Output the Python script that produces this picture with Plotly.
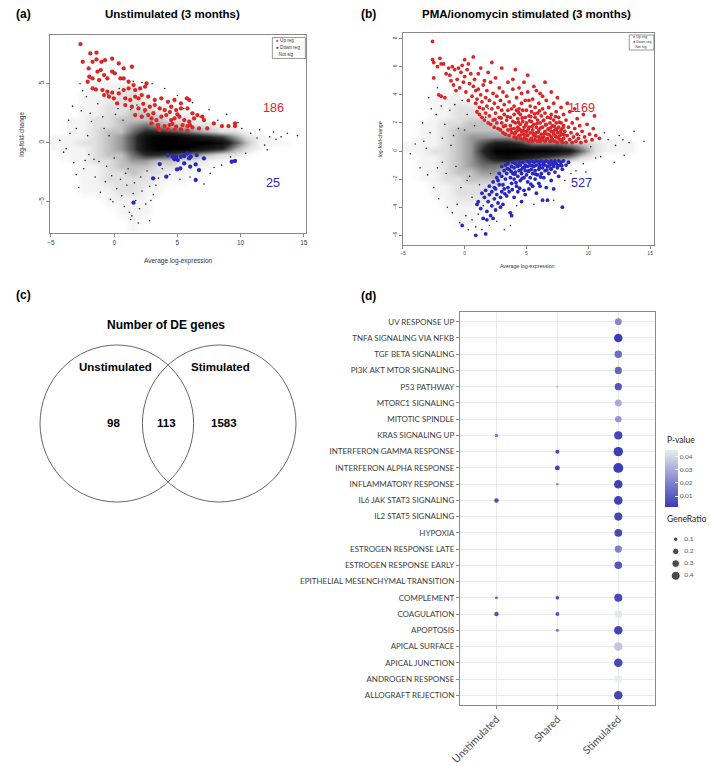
import plotly.graph_objects as go

W, H = 709, 766
def px(x): return x / W
def py(y): return 1 - y / H

# ---------------- data : panel (a) ----------------
UP_A = [(-2.67,8.36),(-2.49,6.86),(-1.89,7.57),(-1.40,7.63),(-1.40,7.06),(-1.71,6.86),(-1.01,6.86),(-0.73,7.0),
        (-0.16,7.12),(0.36,6.72),(0.75,6.3),(1.40,6.44),(-2.02,6.3),(-1.32,6.02),(-1.06,6.16),(-1.97,5.59),
        (-2.10,5.17),(-1.71,5.45),(-1.19,5.31),(-0.80,5.73),(-0.54,5.45),(-0.16,6.02),(0.05,5.88),(0.49,5.45),
        (0.75,5.45),(-1.71,4.60),(-1.45,4.52),(-0.93,4.46),(-0.54,4.32),(-0.16,4.24),(-0.80,4.04),(-0.41,3.90),
        (-0.03,3.76),(0.36,4.18),(0.75,4.46),(1.14,4.60),(1.66,4.46),(2.05,4.60),(2.44,4.75),(2.56,5.03),
        (1.53,4.89),(1.14,5.17),(0.88,3.76),(1.27,3.62),(1.66,3.90),(1.92,3.76),(2.18,4.04),(2.69,3.90),
        (3.21,3.62),(3.73,3.76),(4.25,3.47),(4.77,3.62),(5.28,3.33),(5.75,3.76),(5.93,3.62),(0.23,3.33),
        (0.88,3.19),(1.40,3.05),(1.92,2.91),(2.44,2.77),(2.82,3.05),(3.21,3.19),(3.60,2.91),(3.99,2.77),
        (4.51,3.05),(4.90,2.77),(5.28,2.91),(5.80,2.91),(6.19,2.49),(6.58,2.34),(6.97,2.20),(1.66,2.34),
        (2.18,2.20),(2.69,2.34),(2.95,2.06),(3.34,1.92),(3.73,2.20),(4.12,2.34),(4.51,1.92),(4.77,2.06),
        (5.16,2.20),(5.54,1.92),(5.93,1.78),(6.32,2.06),(7.10,1.92),(7.88,1.64),(8.52,1.41),(9.04,1.41),
        (9.56,1.64),(9.56,1.41),(2.95,1.64),(3.47,1.50),(3.99,1.41),(4.38,1.50),(4.90,1.36),(5.41,1.50),
        (5.80,1.41),(6.19,1.30),(6.71,1.21),(7.36,1.21),(3.60,1.07),(4.25,1.13),(4.77,1.07),(5.28,1.13),
        (5.80,1.02),(3.1,2.5),(4.4,2.6),(5.0,2.4),(3.5,1.2),(4.6,1.6),(6.0,1.5),(2.3,3.3)]
DOWN_A = [(4.64,-1.19),(4.77,-1.41),(4.90,-1.19),(5.03,-1.47),(5.28,-1.19),(5.54,-1.13),(5.93,-1.33),
          (6.06,-1.19),(6.53,-1.05),(3.60,-1.81),(4.97,-2.26),(5.23,-2.18),(5.54,-1.75),(6.01,-2.03),
          (6.45,-1.84),(6.71,-2.32),(3.08,-3.02),(4.12,-2.88),(6.45,-3.16),(9.30,-1.61),(9.56,-1.55),
          (1.53,-5.08),(7.10,-1.33),(5.80,-0.90),(4.25,-1.05)]
SPECK_A = [(-4.3,0.2),(-3.8,-0.5),(-3.5,0.8),(-3.2,-1.7),(-3.0,1.2),(-2.8,-3.8),(-2.6,2.7),(-2.4,-2.2),
           (-2.2,3.9),(-2.0,-1.0),(-1.8,1.8),(-1.5,-2.9),(-1.3,3.3),(-1.1,-4.2),(-0.9,2.2),(-0.7,-3.3),
           (-0.5,4.1),(-0.3,-4.8),(-0.1,-5.0),(0.2,-3.9),(0.4,4.6),(0.6,-4.5),(0.8,-5.4),(1.0,-3.6),
           (1.2,-5.9),(1.4,-6.2),(1.7,-4.9),(2.0,-5.6),(2.2,-4.1),(2.5,-5.2),(2.8,-3.7),(3.1,-4.4),
           (3.5,-3.0),(1.9,-6.8),(2.8,-6.6),(1.3,-6.5),(7.1,-3.5),(6.0,-2.9),(7.6,-2.6),(8.5,-1.9),
           (9.2,-1.2),(10.4,-0.9),(10.8,0.8),(11.3,0.4),(11.9,-0.2),(12.3,0.5),(12.6,0.9),(12.8,0.3),
           (13.2,0.5),(13.7,0.8),(14.5,0.6),(12.1,-0.6),(11.5,1.1),(9.8,1.7),(8.9,2.4),(7.5,2.8),
           (6.2,3.4),(5.0,4.0),(4.0,4.6),(3.0,5.0),(2.2,5.1),(1.5,5.2),(-2.7,5.0),(-2.5,4.4),
           (-3.3,3.1),(-4.0,-0.8),(-3.0,-2.7),(-2.1,0.6),(-1.6,-1.4),(-0.6,-2.0),(0.3,2.9),(0.9,-2.6),
           (-1.2,-1.6),(-0.8,1.2),(-0.2,-2.8),(0.1,2.4),(0.5,-3.1),(0.7,1.9),(1.1,-2.2),(1.3,2.8),
           (1.6,-3.4),(1.8,3.2),(2.1,-2.9),(2.4,2.6),(2.6,-2.4),(2.9,-4.9),(3.3,-3.6),(3.8,-2.2),
           (4.4,-2.7),(5.2,-3.1),(5.5,2.9),(6.8,2.2),(7.9,-2.1),(8.2,1.9),(9.5,-1.5),(10.1,1.2),
           (-1.9,2.5),(-2.3,-1.5),(-3.6,1.9),(0.0,-1.3),(-0.4,0.6),(1.5,-4.3)]

# density of non-significant genes (0 = none, 10 = solid black)
DENS_X = [-4.5,-3.5,-2.5,-1.5,-0.5,0.5,1.5,2.5,3.5,4.5,5.5,6.5,7.5,8.5,9.5,10.5,11.5,12.5,13.5,14.5]
DENS_Y_A = [8,7,6,5,4,3,2.5,2,1.5,1,0.5,0,-0.5,-1,-1.5,-2,-2.5,-3,-4,-5,-6,-7]
DENS_A = [
 [0,0,0,0,0,0,0,0,0,0,0,0,0,0,0,0,0,0,0,0],
 [0,0,0,0,0,0,0,0,0,0,0,0,0,0,0,0,0,0,0,0],
 [0,0,0,0,0,0,0,0,0,0,0,0,0,0,0,0,0,0,0,0],
 [0,0,0,1,1,1,1,0,0,0,0,0,0,0,0,0,0,0,0,0],
 [0,0,1,1,1,2,2,1,0,0,0,0,0,0,0,0,0,0,0,0],
 [0,0,1,1,2,2,2,2,1,1,0,0,0,0,0,0,0,0,0,0],
 [0,0,1,1,2,2,3,3,2,1,1,1,0,0,0,0,0,0,0,0],
 [0,1,1,2,2,3,3,3,3,2,2,1,1,0,0,0,0,0,0,0],
 [0,1,1,2,2,3,4,5,4,3,3,2,2,1,1,0,0,0,0,0],
 [0,1,1,2,3,3,5,7,7,6,5,4,3,2,2,1,0,0,0,0],
 [1,1,1,2,3,4,6,9,10,10,9,8,7,6,4,2,1,1,0,0],
 [1,1,2,2,3,4,6,9,10,10,10,10,10,9,6,3,1,1,1,0],
 [1,1,1,2,3,4,6,9,10,10,10,9,8,7,4,2,1,0,0,0],
 [0,1,1,2,3,3,5,7,7,6,5,4,3,2,2,1,0,0,0,0],
 [0,1,1,2,2,3,4,4,3,3,2,2,1,1,0,0,0,0,0,0],
 [0,0,1,1,2,3,3,3,2,2,1,1,1,0,0,0,0,0,0,0],
 [0,0,1,1,2,2,3,2,2,1,1,1,0,0,0,0,0,0,0,0],
 [0,0,1,1,2,2,2,2,1,1,1,0,0,0,0,0,0,0,0,0],
 [0,0,1,1,1,2,2,1,1,0,0,0,0,0,0,0,0,0,0,0],
 [0,0,0,0,1,1,1,1,0,0,0,0,0,0,0,0,0,0,0,0],
 [0,0,0,0,0,1,1,1,0,0,0,0,0,0,0,0,0,0,0,0],
 [0,0,0,0,0,0,1,0,0,0,0,0,0,0,0,0,0,0,0,0]]

# ---------------- data : panel (b) ----------------
UP_B = [(-2.6,7.8),(-2.6,6.5),(-2.5,6.3),(-2.5,5.2),(-2.2,6.0),(-2.0,6.6),(-1.9,6.2),(-1.7,6.2),(-2.1,4.0),
        (-1.9,3.9),(-1.6,3.8),(-1.5,5.5),(-1.3,5.9),(-1.2,5.4),(-1.1,5.0),(-1.0,6.0),(-0.9,4.7),(-0.8,5.8),
        (-0.7,4.3),(-0.6,5.1),(-0.5,5.9),(-0.4,4.5),(-0.3,5.6),(-0.2,6.1),(-0.1,4.9),(0.0,6.5),(0.0,5.3),
        (0.1,4.2),(0.2,5.8),(0.3,6.2),(0.3,3.6),(0.4,4.8),(0.5,5.5),(0.6,3.9),(0.7,6.7),(0.7,4.6),(0.8,5.1),
        (0.9,3.4),(0.9,4.3),
        (1.0,2.8),(1.0,3.7),(1.1,5.5),(1.1,4.4),(1.2,3.1),(1.2,2.6),(1.3,4.0),(1.3,5.9),(1.4,3.5),(1.4,2.4),
        (1.5,4.7),(1.5,3.0),(1.6,2.2),(1.6,5.0),(1.7,3.8),(1.7,2.7),(1.8,4.3),(1.8,3.2),(1.9,2.0),(1.9,5.6),
        (2.0,3.6),(2.0,2.5),(2.1,4.9),(2.1,1.9),(2.2,3.0),(2.2,6.3),(2.3,2.2),(2.3,4.1),(2.4,3.4),(2.4,1.7),
        (2.5,2.7),(2.5,5.2),(2.6,3.9),(2.6,2.0),(2.7,1.6),(2.7,3.1),(2.8,4.5),(2.8,2.4),(2.9,1.5),(2.9,3.6),
        (3.0,2.0),(3.0,2.9),(3.0,5.9),(3.1,1.3),(3.1,4.2),(3.2,2.6),(3.2,3.3),(3.3,1.8),(3.3,1.2),(3.4,3.9),
        (3.4,2.2),(3.5,1.5),(3.5,2.9),(3.5,4.9),(3.6,1.1),(3.6,3.5),(3.7,2.4),(3.7,1.8),(3.8,3.0),(3.8,1.3),
        (3.9,4.4),(3.9,2.1),
        (4.0,1.0),(4.0,1.6),(4.0,2.6),(4.0,3.2),(4.1,1.3),(4.1,2.0),(4.1,5.8),(4.2,0.9),(4.2,2.9),(4.2,3.8),
        (4.3,1.7),(4.3,2.3),(4.4,1.1),(4.4,3.0),(4.4,4.5),(4.5,0.9),(4.5,1.9),(4.5,2.6),(4.6,1.4),(4.6,3.4),
        (4.7,0.8),(4.7,2.1),(4.7,2.9),(4.8,1.2),(4.8,1.7),(4.8,4.9),(4.9,2.4),(4.9,3.6),(5.0,0.8),(5.0,1.4),
        (5.0,2.0),(5.0,2.9),(5.1,1.1),(5.1,4.2),(5.1,5.4),(5.2,0.7),(5.2,1.7),(5.2,2.5),(5.3,1.3),(5.3,3.2),
        (5.4,0.9),(5.4,2.1),(5.4,2.8),(5.5,0.7),(5.5,1.5),(5.5,3.7),(5.6,1.1),(5.6,1.9),(5.6,4.6),(5.7,0.8),
        (5.7,2.4),(5.7,3.1),(5.8,1.3),(5.8,1.7),(5.9,0.7),(5.9,2.2),(5.9,2.7),(6.0,1.0),(6.0,1.5),(6.0,3.4),
        (6.1,0.7),(6.1,2.0),(6.1,4.1),(6.2,1.2),(6.2,2.5),(6.3,0.8),(6.3,1.7),(6.3,3.0),(6.4,1.0),(6.4,2.2),
        (6.5,0.7),(6.5,1.4),(6.5,2.7),(6.5,4.9),(6.6,1.9),(6.6,3.6),(6.7,0.9),(6.7,1.2),(6.7,2.4),(6.8,1.6),
        (6.8,3.1),(6.9,0.7),(6.9,2.0),(7.0,1.0),(7.0,1.4),(7.0,2.6),(7.0,4.2),(7.1,0.8),(7.1,1.8),(7.2,1.2),
        (7.2,2.2),(7.2,3.4),(7.3,0.7),(7.3,1.5),(7.4,1.0),(7.4,2.0),(7.4,2.8),(7.5,0.6),(7.5,1.3),(7.5,3.8),
        (7.6,1.7),(7.6,2.4),(7.7,0.8),(7.7,1.1),(7.8,1.5),(7.8,2.0),(7.8,3.1),(7.9,0.6),(7.9,1.2),(8.0,0.9),
        (8.0,1.8),(8.0,2.6),
        (8.1,1.4),(8.2,0.6),(8.2,2.2),(8.3,1.1),(8.3,3.4),(8.4,1.7),(8.5,0.8),(8.5,2.8),(8.6,1.3),(8.7,2.0),
        (8.7,0.6),(8.8,1.0),(8.9,1.6),(8.9,3.0),(9.0,0.7),(9.1,2.3),(9.1,1.2),(9.2,0.9),(9.3,1.8),(9.4,0.6),
        (9.5,1.4),(9.6,2.6),(9.7,1.0),(9.8,0.7),(9.9,1.9),(10.1,1.2),(10.3,0.8),(10.5,2.5),(10.6,1.1),
        (10.9,0.9),(10.4,1.6),
        (4.05,1.25),(4.15,0.95),(4.25,1.45),(4.35,2.05),(4.45,1.55),(4.55,1.15),(4.65,2.35),(4.75,1.45),
        (4.85,0.95),(4.95,1.85),(5.05,1.15),(5.15,1.55),(5.25,2.15),(5.35,0.85),(5.45,1.75),(5.55,1.25),
        (5.65,2.65),(5.75,1.05),(5.85,1.95),(5.95,1.35),(6.05,0.85),(6.15,1.65),(6.25,0.95),(6.35,2.15),
        (6.45,1.25),(6.55,1.85),(6.65,0.85),(6.75,1.55),(6.85,1.15),(6.95,2.35),(7.05,0.75),(7.15,1.35),
        (7.25,1.75),(7.35,1.05),(7.45,1.55),(7.55,0.95),(7.65,2.05),(7.75,1.35),(7.85,0.75),(7.95,1.65),
        (8.05,1.15),(5.2,3.6),(4.6,4.1),(3.9,5.1),(6.3,3.9),(5.8,4.3),(3.45,2.45),(2.95,2.35),(3.75,1.55),
        (4.35,2.75),(5.35,2.45),(6.05,2.85),(6.95,1.65),(7.35,2.45),(3.15,1.75),(2.45,2.25)]
DOWN_B = [(3.0,-1.1),(3.0,-1.8),(3.1,-2.4),(3.2,-1.4),(3.3,-1.0),(3.3,-2.0),(3.4,-1.6),(3.5,-0.9),(3.5,-2.6),
          (3.6,-1.3),(3.7,-1.9),(3.8,-1.1),(3.8,-2.3),(3.9,-0.8),(3.9,-1.6),(4.0,-1.2),(4.0,-2.0),(4.1,-0.9),
          (4.1,-1.5),(4.2,-2.5),(4.3,-1.1),(4.3,-1.8),(4.4,-0.8),(4.4,-1.4),(4.5,-2.1),(4.5,-1.0),(4.6,-1.6),
          (4.7,-0.8),(4.7,-1.2),(4.8,-1.9),(4.8,-2.8),(4.9,-1.0),(4.9,-1.4),(5.0,-0.7),(5.0,-1.7),(5.1,-1.1),
          (5.1,-2.2),(5.2,-0.8),(5.2,-1.4),(5.3,-1.0),(5.3,-1.9),(5.4,-0.7),(5.4,-1.3),(5.5,-1.6),(5.5,-2.5),
          (5.6,-0.8),(5.6,-1.1),(5.7,-1.4),(5.7,-2.0),(5.8,-0.7),(5.8,-1.0),(5.9,-1.7),(6.0,-0.8),(6.0,-1.3),
          (6.0,-2.3),(6.1,-1.0),(6.2,-0.7),(6.2,-1.6),(6.3,-1.2),(6.3,-3.5),(6.4,-0.8),(6.4,-1.9),(6.5,-1.0),
          (6.5,-1.4),(6.6,-0.7),(6.6,-2.6),(6.7,-1.1),(6.8,-0.8),(6.8,-1.6),(6.9,-1.0),(7.0,-0.7),(7.0,-1.3),
          (7.0,-2.1),(7.1,-0.9),(7.2,-1.1),(7.3,-0.7),(7.3,-1.5),(7.4,-0.9),(7.5,-1.2),(7.6,-0.7),(7.6,-1.8),
          (7.7,-1.0),(7.8,-0.8),(7.9,-1.3),(8.0,-0.7),(8.2,-1.0),(8.4,-0.8),(7.9,-4.0),(7.2,-2.7),(6.7,-3.5),
          (1.0,-3.8),(1.1,-3.6),(1.3,-4.1),(1.4,-3.0),(1.5,-4.8),(1.6,-3.3),(1.7,-2.8),(1.8,-4.3),(1.9,-3.6),
          (2.0,-2.5),(2.0,-3.1),(2.1,-4.6),(2.2,-2.9),(2.2,-3.9),(2.3,-2.2),(2.4,-3.4),(2.5,-2.7),(2.5,-4.2),
          (2.6,-1.9),(2.6,-3.1),(2.7,-3.7),(2.8,-2.4),(2.8,-1.6),(2.9,-3.3),(3.0,-2.9),(3.1,-3.8),(3.2,-2.7),
          (3.4,-3.2),(3.6,-2.9),(3.8,-4.6),(4.0,-3.3),(4.3,-2.9),(4.6,-3.6),(4.9,-3.1),(5.2,-2.7),(5.8,-3.0),
          (6.1,-2.5),(0.9,-6.0),(1.7,-5.9),(-0.2,-5.3),(1.8,-4.9),(2.3,-4.8),(3.7,-4.4),(2.9,-4.0),
          (3.45,-1.25),(3.75,-1.45),(4.05,-1.65),(4.25,-1.05),(4.55,-1.35),(4.85,-1.15),(5.15,-1.45),
          (5.45,-1.05),(5.75,-1.65),(6.05,-1.15),(6.35,-0.95),(6.65,-1.35),(6.95,-1.25),(7.25,-0.85),
          (7.55,-1.05),(7.85,-1.05),(4.15,-2.25),(4.65,-1.95),(5.35,-2.35),(6.15,-1.85),(3.85,-2.75),
          (4.45,-2.65),(2.7,-2.1),(2.4,-2.6),(3.25,-3.05)]
SPECK_B = [(-4.4,-0.2),(-4.0,0.5),(-3.6,-1.2),(-3.3,0.7),(-3.4,2.0),(-3.0,-1.7),(-2.8,1.3),(-2.5,-2.6),
           (-2.7,3.0),(-2.3,2.6),(-2.1,-3.4),(-1.8,-0.8),(-1.6,1.9),(-1.4,-4.0),(-1.2,2.9),(-1.0,-4.4),
           (-0.8,3.3),(-0.6,-3.8),(-0.4,-5.1),(-0.2,3.6),(0.1,-4.6),(0.3,-5.6),(0.6,-4.9),(0.9,-5.4),
           (1.1,-4.5),(1.4,-5.6),(2.0,-5.3),(2.6,-5.0),(3.2,-5.6),(3.6,-4.4),(4.2,-3.9),(5.6,-3.8),
           (7.2,-3.5),(8.1,-2.1),(9.0,-1.4),(9.6,-0.9),(10.2,0.3),(11.0,-0.4),(11.6,0.8),(12.2,0.4),
           (12.5,1.1),(12.8,0.8),(13.3,0.6),(13.7,1.4),(14.5,0.7),(12.1,-0.8),(12.9,-0.3),(11.3,1.3),
           (9.8,-1.5),(3.7,-5.3),(-2.9,3.8),(-1.9,3.2),(-2.2,4.5),(1.9,3.0),(-1.1,0.4),(0.2,-2.1),(-0.5,1.6),
           (-1.5,-1.6),(-0.9,1.1),(-0.3,-2.6),(0.2,2.6),(0.6,-3.3),(0.8,1.8),(1.2,-2.4),(1.0,2.7),
           (1.5,-3.9),(1.7,2.4),(2.1,-1.6),(-2.2,-1.2),(-3.1,0.2),(-0.7,-1.1),(0.4,-1.8),(9.3,1.1),
           (10.6,-0.5),(8.6,-1.6),(-1.8,0.9),(0.0,1.5)]
DENS_Y_B = [6,5,4,3,2.5,2,1.5,1,0.5,0,-0.5,-1,-1.5,-2,-2.5,-3,-4,-5,-6]
DENS_B = [
 [0,0,0,0,0,0,0,0,0,0,0,0,0,0,0,0,0,0,0,0],
 [0,0,0,0,0,0,0,0,0,0,0,0,0,0,0,0,0,0,0,0],
 [0,0,1,1,1,0,0,0,0,0,0,0,0,0,0,0,0,0,0,0],
 [0,0,1,1,2,2,1,0,0,0,0,0,0,0,0,0,0,0,0,0],
 [0,0,1,1,2,2,2,1,0,0,0,0,0,0,0,0,0,0,0,0],
 [0,1,1,2,2,3,3,2,1,0,0,0,0,0,0,0,0,0,0,0],
 [0,1,1,2,3,3,3,3,2,1,0,0,0,0,0,0,0,0,0,0],
 [0,1,1,2,3,4,4,4,4,3,2,1,1,1,1,0,0,1,0,0],
 [1,1,1,2,3,4,6,8,8,7,5,5,5,4,3,2,1,1,1,0],
 [1,1,2,2,3,4,7,10,10,10,10,10,9,8,5,2,1,1,1,0],
 [0,1,1,2,3,4,6,8,9,8,7,6,5,4,2,1,0,0,0,0],
 [0,1,1,2,3,4,5,5,4,2,1,1,0,0,0,0,0,0,0,0],
 [0,1,1,2,3,3,4,4,2,1,0,0,0,0,0,0,0,0,0,0],
 [0,1,1,2,2,3,3,3,1,0,0,0,0,0,0,0,0,0,0,0],
 [0,0,1,1,2,2,2,2,1,0,0,0,0,0,0,0,0,0,0,0],
 [0,0,1,1,2,2,2,1,0,0,0,0,0,0,0,0,0,0,0,0],
 [0,0,0,1,1,1,1,1,0,0,0,0,0,0,0,0,0,0,0,0],
 [0,0,0,0,1,1,0,0,0,0,0,0,0,0,0,0,0,0,0,0],
 [0,0,0,0,0,0,0,0,0,0,0,0,0,0,0,0,0,0,0,0]]
COUNTS_A = {"up": 186, "down": 25}
COUNTS_B = {"up": 1169, "down": 527}

# ---------------- data : panel (c) ----------------
VENN_SETS = ["Unstimulated", "Stimulated"]
VENN_COUNTS = [98, 113, 1583]   # only unstim, shared, only stim

# ---------------- data : panel (d) ----------------
PATHWAYS = ["UV RESPONSE UP","TNFA SIGNALING VIA NFKB","TGF BETA SIGNALING","PI3K AKT MTOR SIGNALING",
            "P53 PATHWAY","MTORC1 SIGNALING","MITOTIC SPINDLE","KRAS SIGNALING UP",
            "INTERFERON GAMMA RESPONSE","INTERFERON ALPHA RESPONSE","INFLAMMATORY RESPONSE",
            "IL6 JAK STAT3 SIGNALING","IL2 STAT5 SIGNALING","HYPOXIA","ESTROGEN RESPONSE LATE",
            "ESTROGEN RESPONSE EARLY","EPITHELIAL MESENCHYMAL TRANSITION","COMPLEMENT","COAGULATION",
            "APOPTOSIS","APICAL SURFACE","APICAL JUNCTION","ANDROGEN RESPONSE","ALLOGRAFT REJECTION"]
GROUPS = ["Unstimulated", "Shared", "Stimulated"]
ENR_GROUP = ["Unstimulated"]*5 + ["Shared"]*8 + ["Stimulated"]*23
ENR_PATH = ["KRAS SIGNALING UP","IL6 JAK STAT3 SIGNALING","EPITHELIAL MESENCHYMAL TRANSITION","COMPLEMENT","COAGULATION",
            "P53 PATHWAY","INTERFERON GAMMA RESPONSE","INTERFERON ALPHA RESPONSE","INFLAMMATORY RESPONSE",
            "COMPLEMENT","COAGULATION","APOPTOSIS","ALLOGRAFT REJECTION",
            "UV RESPONSE UP","TNFA SIGNALING VIA NFKB","TGF BETA SIGNALING","PI3K AKT MTOR SIGNALING",
            "P53 PATHWAY","MTORC1 SIGNALING","MITOTIC SPINDLE","KRAS SIGNALING UP",
            "INTERFERON GAMMA RESPONSE","INTERFERON ALPHA RESPONSE","INFLAMMATORY RESPONSE",
            "IL6 JAK STAT3 SIGNALING","IL2 STAT5 SIGNALING","HYPOXIA","ESTROGEN RESPONSE LATE",
            "ESTROGEN RESPONSE EARLY","COMPLEMENT","COAGULATION","APOPTOSIS","APICAL SURFACE",
            "APICAL JUNCTION","ANDROGEN RESPONSE","ALLOGRAFT REJECTION"]
ENR_P = [0.018,0.006,0.045,0.015,0.008,
         0.030,0.004,0.003,0.020,0.006,0.008,0.016,0.035,
         0.022,0.0017,0.015,0.012,0.008,0.030,0.025,0.004,0.002,0.0017,0.003,0.003,0.004,0.005,
         0.020,0.008,0.005,0.0440,0.004,0.036,0.005,0.0446,0.004]
ENR_RATIO = [0.06,0.10,0.03,0.045,0.10,
             0.02,0.08,0.12,0.03,0.065,0.075,0.045,0.012,
             0.24,0.36,0.28,0.26,0.26,0.24,0.21,0.33,0.44,0.49,0.36,0.36,0.32,0.30,
             0.26,0.28,0.32,0.30,0.36,0.36,0.36,0.28,0.36]
RATIO_BREAKS = [0.1, 0.2, 0.3, 0.4]
P_TICKS = [0.01, 0.02, 0.03, 0.04]

RED, BLUE = "#d92626", "#2828c0"
FONT = "Liberation Sans"
GG = "Lato"

def dsize(r):
    return 14.2 * r ** 0.5

fig = go.Figure()

def ma_panel(xa, ya, dens_y, dens, up, down, speck, msize):
    fig.add_trace(go.Heatmap(x=DENS_X, y=dens_y[::-1], z=dens[::-1], zmin=0, zmax=10, zsmooth="best",
                             colorscale=[[0, "rgba(255,255,255,0)"], [0.1, "#f4f4f4"], [0.2, "#e0e0e0"],
                                         [0.3, "#c2c2c2"], [0.5, "#6e6e6e"], [0.7, "#262626"],
                                         [1, "#000000"]],
                             showscale=False, hoverinfo="skip", xaxis=xa, yaxis=ya))
    fig.add_trace(go.Scatter(x=[p[0] for p in speck], y=[p[1] for p in speck], mode="markers",
                             marker=dict(size=1.6, color="#222"), xaxis=xa, yaxis=ya, showlegend=False))
    fig.add_trace(go.Scatter(x=[p[0] for p in up], y=[p[1] for p in up], mode="markers",
                             marker=dict(size=msize, color=RED), xaxis=xa, yaxis=ya, showlegend=False))
    fig.add_trace(go.Scatter(x=[p[0] for p in down], y=[p[1] for p in down], mode="markers",
                             marker=dict(size=msize, color=BLUE), xaxis=xa, yaxis=ya, showlegend=False))

ma_panel("x", "y", DENS_Y_A, DENS_A, UP_A, DOWN_A, SPECK_A, 4.3)
ma_panel("x2", "y2", DENS_Y_B, DENS_B, UP_B, DOWN_B, SPECK_B, 3.8)

# panel d
gi = {g: i + 1 for i, g in enumerate(GROUPS)}
pi = {p: i + 1 for i, p in enumerate(PATHWAYS)}
fig.add_trace(go.Scatter(
    x=[gi[g] for g in ENR_GROUP], y=[pi[p] for p in ENR_PATH], mode="markers",
    marker=dict(size=[dsize(r) for r in ENR_RATIO], color=ENR_P, cmin=min(ENR_P), cmax=max(ENR_P),
                colorscale=[[0, "#3a3db6"], [0.45, "#8586cc"], [0.75, "#b9bde0"], [1, "#e2f2ea"]],
                line=dict(width=0), opacity=1,
                colorbar=dict(x=px(665), xanchor="left", y=py(507), yanchor="bottom", ypad=0, xpad=0,
                              len=57, lenmode="pixels", thickness=13, thicknessmode="pixels",
                              outlinewidth=0, tickvals=P_TICKS, ticktext=[f"{t:.2f}" for t in P_TICKS],
                              ticks="inside", ticklen=3, tickcolor="white",
                              tickfont=dict(size=6.5, family=GG, color="#555"))),
    xaxis="x3", yaxis="y3", showlegend=False))

# GeneRatio legend keys
fig.add_trace(go.Scatter(x=[0.28]*4, y=RATIO_BREAKS, mode="markers",
                         marker=dict(size=[dsize(r) for r in RATIO_BREAKS], color="black"),
                         xaxis="x4", yaxis="y4", showlegend=False))
fig.add_trace(go.Scatter(x=[0.5]*4, y=RATIO_BREAKS, mode="text", text=[str(r) for r in RATIO_BREAKS],
                         textposition="middle right", textfont=dict(size=6.5, family=GG, color="#555"),
                         xaxis="x4", yaxis="y4", showlegend=False))

axis_line = dict(showline=True, linecolor="#8a8a8a", linewidth=1, mirror=True, showgrid=False,
                 zeroline=False, ticks="outside", ticklen=3, tickcolor="#8a8a8a")
fig.update_layout(
    width=W, height=H, margin=dict(l=0, r=0, t=0, b=0), plot_bgcolor="white", paper_bgcolor="white",
    showlegend=False, font=dict(family=FONT),
    xaxis=dict(domain=[px(41), px(301)], range=[-5.05, 15.2], tickvals=[-5, 0, 5, 10, 15],
               tickfont=dict(size=6.5, color="#444"), anchor="y", **axis_line),
    yaxis=dict(domain=[py(233), py(35)], range=[-7.65, 9.13], tickvals=[-5, 0, 5], tickangle=-90,
               tickfont=dict(size=6.5, color="#444"), anchor="x", **axis_line),
    xaxis2=dict(domain=[px(399), px(654)], range=[-5.0, 15.3], tickvals=[-5, 0, 5, 10, 15],
                tickfont=dict(size=5, color="#444"), anchor="y2", **axis_line),
    yaxis2=dict(domain=[py(245), py(33)], range=[-6.69, 8.4], tickvals=[-6, -4, -2, 0, 2, 4, 6, 8],
                tickangle=-90, tickfont=dict(size=5, color="#444"), anchor="x2", **axis_line),
    xaxis3=dict(domain=[px(457), px(655)], range=[0.4, 3.6], tickvals=[1, 2, 3], ticktext=GROUPS,
                tickangle=-45, tickfont=dict(size=10.5, family=GG, color="#4d4d4d"),
                showgrid=True, gridcolor="#ebebeb", gridwidth=1, zeroline=False,
                showline=True, linecolor="#8a8a8a", mirror=True, ticks="outside", ticklen=3,
                tickcolor="#8a8a8a", anchor="y3"),
    yaxis3=dict(domain=[py(705), py(312)], range=[len(PATHWAYS) + 0.6, 0.4],
                tickvals=list(range(1, len(PATHWAYS) + 1)), ticktext=PATHWAYS,
                tickfont=dict(size=8, family=GG, color="#3d3d3d"),
                showgrid=True, gridcolor="#ebebeb", gridwidth=1, zeroline=False,
                showline=True, linecolor="#8a8a8a", mirror=True, ticks="outside", ticklen=3,
                tickcolor="#8a8a8a", anchor="x3"),
    xaxis4=dict(domain=[px(665), px(705)], range=[0, 1], visible=False, anchor="y4"),
    yaxis4=dict(domain=[py(588), py(527)], range=[0.5, 0.0], visible=False, anchor="x4"),
)

ann = []
def A(x, y, text, size, color="black", bold=False, family=FONT, angle=0, xanchor="center"):
    ann.append(dict(x=px(x), y=py(y), xref="paper", yref="paper", text=f"<b>{text}</b>" if bold else text,
                    showarrow=False, font=dict(size=size, color=color, family=family), textangle=angle,
                    xanchor=xanchor, yanchor="middle"))

# panel labels and titles
A(4, 14, "(a)", 12, bold=True, xanchor="left")
A(165, 14, "Unstimulated (3 months)", 11.5, bold=True)
A(355, 14, "(b)", 12, bold=True, xanchor="left")
A(525, 14, "PMA/ionomycin stimulated (3 months)", 11.5, bold=True)
A(4, 295, "(c)", 12, bold=True, xanchor="left")
A(355, 296, "(d)", 12, bold=True, xanchor="left")

# axis titles (a), (b)
A(171, 261, "Average log-expression", 6.5, color="#333")
A(12, 134, "log-fold-change", 6.5, color="#333", angle=-90)
A(526, 266, "Average log-expression", 5.2, color="#333")
A(376, 139, "log-fold-change", 5.2, color="#333", angle=-90)

# counts
ann.append(dict(x=12.6, y=2.95, xref="x", yref="y", text=str(COUNTS_A["up"]), showarrow=False,
                font=dict(size=12.6, color=RED, family=FONT)))
ann.append(dict(x=12.6, y=-3.4, xref="x", yref="y", text=str(COUNTS_A["down"]), showarrow=False,
                font=dict(size=12.6, color=BLUE, family=FONT)))
ann.append(dict(x=9.45, y=3.06, xref="x2", yref="y2", text=str(COUNTS_B["up"]), showarrow=False,
                font=dict(size=12.6, color=RED, family=FONT)))
ann.append(dict(x=9.45, y=-2.28, xref="x2", yref="y2", text=str(COUNTS_B["down"]), showarrow=False,
                font=dict(size=12.6, color=BLUE, family=FONT)))

# mini legends for (a), (b)
def mini_legend(x0, y0, x1, y1, fs):
    h = (y1 - y0) / 3
    labels = [("Up reg", RED), ("Down reg", BLUE), ("Not sig", "#999")]
    for i, (lab, col) in enumerate(labels):
        sym = "●" if i < 2 else "·"
        ann.append(dict(x=px(x0 + 2), y=py(y0 + h * (i + 0.5)), xref="paper", yref="paper",
                        text=f"<span style='color:{col}'>{sym}</span> {lab}", showarrow=False,
                        xanchor="left", yanchor="middle", font=dict(size=fs, color="#333", family=FONT)))
    return dict(type="rect", xref="paper", yref="paper", x0=px(x0), x1=px(x1), y0=py(y1), y1=py(y0),
                line=dict(color="#555", width=0.6), fillcolor="white", layer="above")

shapes = []
shapes.append(mini_legend(266.5, 37.5, 300, 58.5, 4.6))
shapes.append(mini_legend(629, 35, 654, 50, 3.6))

# Venn diagram (c)
A(158, 325, "Number of DE genes", 12, bold=True)
for cx in (108.5, 212.5):
    shapes.append(dict(type="circle", xref="paper", yref="paper", x0=px(cx - 78), x1=px(cx + 78),
                       y0=py(502), y1=py(345), line=dict(color="#555", width=0.9)))
A(107, 367, VENN_SETS[0], 11.5, bold=True)
A(214, 367, VENN_SETS[1], 11.5, bold=True)
A(105, 423.5, str(VENN_COUNTS[0]), 11.5, bold=True)
A(159, 423.5, str(VENN_COUNTS[1]), 11.5, bold=True)
A(217, 423.5, str(VENN_COUNTS[2]), 11.5, bold=True)

# legend titles (d)
A(665, 440, "P-value", 8.5, color="#222", family=GG, xanchor="left")
A(665, 519, "GeneRatio", 8.5, color="#222", family=GG, xanchor="left")

fig.update_layout(annotations=ann, shapes=shapes)
fig.write_html("out.html")
